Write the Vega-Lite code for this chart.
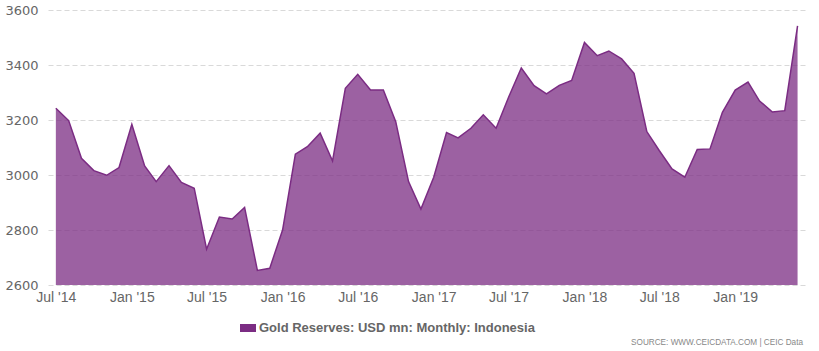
{
  "$schema": "https://vega.github.io/schema/vega-lite/v6.json",
  "autosize": "none",
  "width": 757,
  "height": 275,
  "padding": {"left": 48, "top": 10, "right": 14, "bottom": 66},
  "background": "white",
  "config": {"view": {"stroke": null}},
  "title": {
    "text": "SOURCE: WWW.CEICDATA.COM | CEIC Data",
    "orient": "bottom",
    "anchor": "end",
    "frame": "group",
    "font": "Liberation Sans",
    "fontSize": 8.2,
    "fontWeight": "normal",
    "color": "#888888",
    "offset": 4,
    "dx": -2
  },
  "data": {
    "values": [
      {"date": "2014-07-01", "value": 3243, "series": "Gold Reserves: USD mn: Monthly: Indonesia"},
      {"date": "2014-08-01", "value": 3198, "series": "Gold Reserves: USD mn: Monthly: Indonesia"},
      {"date": "2014-09-01", "value": 3061, "series": "Gold Reserves: USD mn: Monthly: Indonesia"},
      {"date": "2014-10-01", "value": 3016, "series": "Gold Reserves: USD mn: Monthly: Indonesia"},
      {"date": "2014-11-01", "value": 2999, "series": "Gold Reserves: USD mn: Monthly: Indonesia"},
      {"date": "2014-12-01", "value": 3027, "series": "Gold Reserves: USD mn: Monthly: Indonesia"},
      {"date": "2015-01-01", "value": 3184, "series": "Gold Reserves: USD mn: Monthly: Indonesia"},
      {"date": "2015-02-01", "value": 3033, "series": "Gold Reserves: USD mn: Monthly: Indonesia"},
      {"date": "2015-03-01", "value": 2976, "series": "Gold Reserves: USD mn: Monthly: Indonesia"},
      {"date": "2015-04-01", "value": 3034, "series": "Gold Reserves: USD mn: Monthly: Indonesia"},
      {"date": "2015-05-01", "value": 2973, "series": "Gold Reserves: USD mn: Monthly: Indonesia"},
      {"date": "2015-06-01", "value": 2952, "series": "Gold Reserves: USD mn: Monthly: Indonesia"},
      {"date": "2015-07-01", "value": 2730, "series": "Gold Reserves: USD mn: Monthly: Indonesia"},
      {"date": "2015-08-01", "value": 2847, "series": "Gold Reserves: USD mn: Monthly: Indonesia"},
      {"date": "2015-09-01", "value": 2840, "series": "Gold Reserves: USD mn: Monthly: Indonesia"},
      {"date": "2015-10-01", "value": 2882, "series": "Gold Reserves: USD mn: Monthly: Indonesia"},
      {"date": "2015-11-01", "value": 2653, "series": "Gold Reserves: USD mn: Monthly: Indonesia"},
      {"date": "2015-12-01", "value": 2661, "series": "Gold Reserves: USD mn: Monthly: Indonesia"},
      {"date": "2016-01-01", "value": 2800, "series": "Gold Reserves: USD mn: Monthly: Indonesia"},
      {"date": "2016-02-01", "value": 3076, "series": "Gold Reserves: USD mn: Monthly: Indonesia"},
      {"date": "2016-03-01", "value": 3103, "series": "Gold Reserves: USD mn: Monthly: Indonesia"},
      {"date": "2016-04-01", "value": 3152, "series": "Gold Reserves: USD mn: Monthly: Indonesia"},
      {"date": "2016-05-01", "value": 3051, "series": "Gold Reserves: USD mn: Monthly: Indonesia"},
      {"date": "2016-06-01", "value": 3315, "series": "Gold Reserves: USD mn: Monthly: Indonesia"},
      {"date": "2016-07-01", "value": 3366, "series": "Gold Reserves: USD mn: Monthly: Indonesia"},
      {"date": "2016-08-01", "value": 3309, "series": "Gold Reserves: USD mn: Monthly: Indonesia"},
      {"date": "2016-09-01", "value": 3309, "series": "Gold Reserves: USD mn: Monthly: Indonesia"},
      {"date": "2016-10-01", "value": 3194, "series": "Gold Reserves: USD mn: Monthly: Indonesia"},
      {"date": "2016-11-01", "value": 2976, "series": "Gold Reserves: USD mn: Monthly: Indonesia"},
      {"date": "2016-12-01", "value": 2876, "series": "Gold Reserves: USD mn: Monthly: Indonesia"},
      {"date": "2017-01-01", "value": 2992, "series": "Gold Reserves: USD mn: Monthly: Indonesia"},
      {"date": "2017-02-01", "value": 3154, "series": "Gold Reserves: USD mn: Monthly: Indonesia"},
      {"date": "2017-03-01", "value": 3135, "series": "Gold Reserves: USD mn: Monthly: Indonesia"},
      {"date": "2017-04-01", "value": 3170, "series": "Gold Reserves: USD mn: Monthly: Indonesia"},
      {"date": "2017-05-01", "value": 3219, "series": "Gold Reserves: USD mn: Monthly: Indonesia"},
      {"date": "2017-06-01", "value": 3170, "series": "Gold Reserves: USD mn: Monthly: Indonesia"},
      {"date": "2017-07-01", "value": 3282, "series": "Gold Reserves: USD mn: Monthly: Indonesia"},
      {"date": "2017-08-01", "value": 3389, "series": "Gold Reserves: USD mn: Monthly: Indonesia"},
      {"date": "2017-09-01", "value": 3325, "series": "Gold Reserves: USD mn: Monthly: Indonesia"},
      {"date": "2017-10-01", "value": 3295, "series": "Gold Reserves: USD mn: Monthly: Indonesia"},
      {"date": "2017-11-01", "value": 3326, "series": "Gold Reserves: USD mn: Monthly: Indonesia"},
      {"date": "2017-12-01", "value": 3344, "series": "Gold Reserves: USD mn: Monthly: Indonesia"},
      {"date": "2018-01-01", "value": 3482, "series": "Gold Reserves: USD mn: Monthly: Indonesia"},
      {"date": "2018-02-01", "value": 3434, "series": "Gold Reserves: USD mn: Monthly: Indonesia"},
      {"date": "2018-03-01", "value": 3451, "series": "Gold Reserves: USD mn: Monthly: Indonesia"},
      {"date": "2018-04-01", "value": 3422, "series": "Gold Reserves: USD mn: Monthly: Indonesia"},
      {"date": "2018-05-01", "value": 3370, "series": "Gold Reserves: USD mn: Monthly: Indonesia"},
      {"date": "2018-06-01", "value": 3158, "series": "Gold Reserves: USD mn: Monthly: Indonesia"},
      {"date": "2018-07-01", "value": 3089, "series": "Gold Reserves: USD mn: Monthly: Indonesia"},
      {"date": "2018-08-01", "value": 3022, "series": "Gold Reserves: USD mn: Monthly: Indonesia"},
      {"date": "2018-09-01", "value": 2992, "series": "Gold Reserves: USD mn: Monthly: Indonesia"},
      {"date": "2018-10-01", "value": 3093, "series": "Gold Reserves: USD mn: Monthly: Indonesia"},
      {"date": "2018-11-01", "value": 3095, "series": "Gold Reserves: USD mn: Monthly: Indonesia"},
      {"date": "2018-12-01", "value": 3228, "series": "Gold Reserves: USD mn: Monthly: Indonesia"},
      {"date": "2019-01-01", "value": 3309, "series": "Gold Reserves: USD mn: Monthly: Indonesia"},
      {"date": "2019-02-01", "value": 3338, "series": "Gold Reserves: USD mn: Monthly: Indonesia"},
      {"date": "2019-03-01", "value": 3269, "series": "Gold Reserves: USD mn: Monthly: Indonesia"},
      {"date": "2019-04-01", "value": 3229, "series": "Gold Reserves: USD mn: Monthly: Indonesia"},
      {"date": "2019-05-01", "value": 3234, "series": "Gold Reserves: USD mn: Monthly: Indonesia"},
      {"date": "2019-06-01", "value": 3542, "series": "Gold Reserves: USD mn: Monthly: Indonesia"}
    ]
  },
  "encoding": {
    "x": {
      "field": "date",
      "type": "temporal",
      "scale": {"domain": [{"year": 2014, "month": 6, "date": 12}, {"year": 2019, "month": 6, "date": 19}]},
      "axis": {
        "title": null,
        "format": "%b '%y",
        "tickCount": {"interval": "month", "step": 6},
        "grid": false,
        "domain": false,
        "ticks": false,
        "labelPadding": 5,
        "labelFont": "Liberation Sans",
        "labelFontSize": 14,
        "labelColor": "#666666",
        "labelFlush": false,
        "labelOverlap": false
      }
    },
    "y": {
      "field": "value",
      "type": "quantitative",
      "scale": {"domain": [2600, 3600], "nice": false, "zero": false},
      "axis": {
        "title": null,
        "values": [2600, 2800, 3000, 3200, 3400, 3600],
        "format": "d",
        "grid": true,
        "gridColor": "#d9d9d9",
        "gridDash": [5, 3],
        "gridWidth": 1,
        "domain": false,
        "ticks": false,
        "labelPadding": 10,
        "labelFont": "DejaVu Sans",
        "labelFontSize": 13,
        "labelColor": "#666666",
        "labelBaseline": "middle"
      }
    },
    "color": {
      "field": "series",
      "type": "nominal",
      "scale": {"range": ["#7B2C83"]},
      "legend": {
        "title": null,
        "orient": "none",
        "legendX": 192,
        "legendY": 310,
        "padding": 0,
        "symbolType": "M-1,-0.5H1V0.5H-1Z",
        "symbolSize": 256,
        "symbolOpacity": 1,
        "symbolStrokeWidth": 0,
        "labelFont": "Liberation Sans",
        "labelFontSize": 13,
        "labelFontWeight": "bold",
        "labelColor": "#666666",
        "labelLimit": 400,
        "labelOffset": 3
      }
    }
  },
  "layer": [
    {"mark": {"type": "area", "fillOpacity": 0.75, "opacity": 1, "clip": true}},
    {"mark": {"type": "line", "strokeWidth": 1.5, "clip": true}}
  ]
}
